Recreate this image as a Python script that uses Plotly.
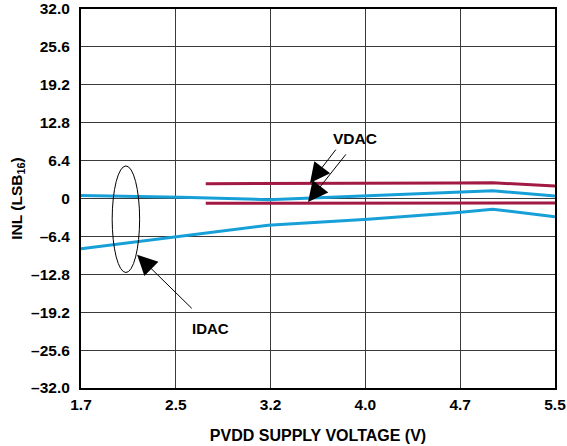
import plotly.graph_objects as go

# Supply voltage grid (evenly spaced, labels rounded to one decimal)
x_ticks = [1.7, 2.46, 3.22, 3.98, 4.74, 5.5]
x_labels = ["1.7", "2.5", "3.2", "4.0", "4.7", "5.5"]
y_ticks = [32.0, 25.6, 19.2, 12.8, 6.4, 0, -6.4, -12.8, -19.2, -25.6, -32.0]
y_labels = ["32.0", "25.6", "19.2", "12.8", "6.4", "0", "–6.4", "–12.8", "–19.2", "–25.6", "–32.0"]

# IDAC INL limits vs PVDD
idac_v = [1.7, 2.5, 3.2, 4.0, 4.7, 5.0, 5.5]
idac_max = [0.5, 0.2, -0.2, 0.5, 1.1, 1.3, 0.4]
idac_min = [-8.5, -6.4, -4.5, -3.5, -2.4, -1.8, -3.1]

# VDAC INL limits vs PVDD
vdac_v = [2.7, 3.2, 4.0, 4.7, 5.0, 5.5]
vdac_max = [2.5, 2.5, 2.6, 2.6, 2.65, 2.1]
vdac_min = [-0.8, -0.8, -0.8, -0.8, -0.75, -0.75]

BLUE = "#17A0D8"
RED = "#A21A44"
FONT = "Liberation Sans, Arial, sans-serif"

fig = go.Figure()
for ys in (idac_max, idac_min):
    fig.add_trace(go.Scatter(x=idac_v, y=ys, mode="lines",
                             line=dict(color=BLUE, width=3), hoverinfo="skip"))
for ys in (vdac_max, vdac_min):
    fig.add_trace(go.Scatter(x=vdac_v, y=ys, mode="lines",
                             line=dict(color=RED, width=3), hoverinfo="skip"))

# Ellipse grouping the IDAC curves
fig.add_shape(type="circle", xref="x", yref="y",
              x0=1.95, x1=2.17, y0=-12.5, y1=5.5,
              line=dict(color="black", width=1))

def arrow(tip, tail):
    fig.add_annotation(x=tip[0], y=tip[1], ax=tail[0], ay=tail[1],
                       xref="x", yref="y", axref="x", ayref="y",
                       text="", showarrow=True, arrowhead=2, arrowsize=4,
                       arrowwidth=1, arrowcolor="black", standoff=0)

arrow((2.15, -9.5), (2.6, -18.8))
arrow((3.536, 2.6), (3.752, 8.5))
arrow((3.52, -0.6), (3.833, 7.7))

fig.add_annotation(x=2.742, y=-22.0, text="<b>IDAC</b>", showarrow=False,
                   font=dict(family=FONT, size=15, color="black"))
fig.add_annotation(x=3.897, y=10.2, text="<b>VDAC</b>", showarrow=False,
                   font=dict(family=FONT, size=15.5, color="black"))

axis_common = dict(showgrid=True, gridcolor="#3a3a3a", gridwidth=1,
                   showline=True, linecolor="black", linewidth=2, mirror=True,
                   zeroline=False, ticks="outside", tickcolor="rgba(0,0,0,0)",
                   automargin=False,
                   tickfont=dict(family=FONT, size=15.5, color="black"))

fig.update_xaxes(range=[1.7, 5.5], tickvals=x_ticks, ticktext=[f"<b>{t}</b>" for t in x_labels],
                 ticklen=1,
                 title=dict(text="<b>PVDD SUPPLY VOLTAGE (V)</b>", standoff=18,
                            font=dict(family=FONT, size=16, color="black")),
                 **axis_common)
fig.update_yaxes(range=[-32, 32], tickvals=y_ticks, ticktext=[f"<b>{t}</b>" for t in y_labels],
                 ticklen=6,
                 title=dict(text="<b>INL (LSB<sub>16</sub>)</b>", standoff=5,
                            font=dict(family=FONT, size=15.5, color="black")),
                 **axis_common)

fig.update_layout(width=567, height=446, showlegend=False,
                  margin=dict(l=81, r=12, t=9, b=58),
                  paper_bgcolor="white", plot_bgcolor="white")

fig.write_html("out.html")
